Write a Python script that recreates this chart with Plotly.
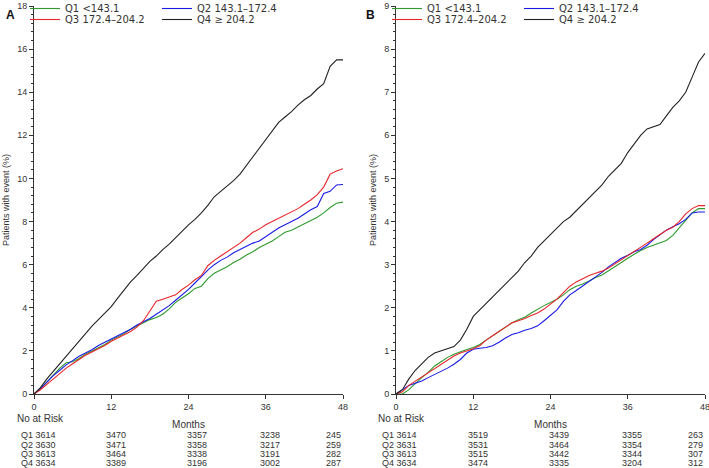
import plotly.graph_objects as go

# months 0..48, cumulative % with event
months = list(range(49))

a_q1 = [0, 0.25, 0.55, 0.9, 1.2, 1.45, 1.5, 1.65, 1.85, 2.0, 2.15, 2.3, 2.5, 2.65, 2.8, 3.0,
        3.15, 3.3, 3.45, 3.55, 3.7, 3.95, 4.25, 4.45, 4.65, 4.9, 5.0, 5.35, 5.6, 5.75, 5.9,
        6.1, 6.25, 6.45, 6.6, 6.8, 6.95, 7.1, 7.3, 7.5, 7.6, 7.75, 7.9, 8.05, 8.2, 8.4, 8.65,
        8.85, 8.9]
a_q2 = [0, 0.25, 0.55, 0.85, 1.1, 1.35, 1.55, 1.75, 1.9, 2.05, 2.25, 2.4, 2.55, 2.7, 2.85, 3.0,
        3.2, 3.35, 3.5, 3.7, 3.9, 4.1, 4.35, 4.6, 4.85, 5.15, 5.45, 5.75, 6.0, 6.2, 6.35,
        6.55, 6.7, 6.85, 7.0, 7.1, 7.3, 7.5, 7.7, 7.85, 8.0, 8.15, 8.35, 8.55, 8.7, 9.3, 9.4,
        9.7, 9.72]
a_q3 = [0, 0.2, 0.45, 0.7, 0.95, 1.2, 1.4, 1.6, 1.8, 1.95, 2.1, 2.25, 2.45, 2.6, 2.75, 2.9,
        3.1, 3.4, 3.85, 4.3, 4.4, 4.5, 4.6, 4.85, 5.05, 5.3, 5.5, 5.95, 6.2, 6.4, 6.6,
        6.8, 7.0, 7.25, 7.5, 7.65, 7.85, 8.0, 8.15, 8.3, 8.45, 8.6, 8.8, 9.0, 9.25, 9.6, 10.2,
        10.35, 10.45]
a_q4 = [0, 0.3, 0.7, 1.05, 1.45, 1.8, 2.15, 2.5, 2.85, 3.15, 3.45, 3.75, 4.05, 4.45, 4.85, 5.2,
        5.5, 5.85, 6.15, 6.4, 6.7, 6.95, 7.25, 7.55, 7.85, 8.1, 8.4, 8.75, 9.15, 9.4, 9.65,
        9.9, 10.2, 10.6, 11.0, 11.4, 11.75, 12.2, 12.6, 12.85, 13.1, 13.4, 13.65, 13.85, 14.15,
        14.4, 15.2, 15.5, 15.5]

b_q1 = [0, 0.0, 0.1, 0.25, 0.38, 0.5, 0.65, 0.75, 0.85, 0.92, 0.98, 1.03, 1.08, 1.15, 1.25,
        1.35, 1.45, 1.55, 1.65, 1.72, 1.78, 1.88, 1.97, 2.05, 2.12, 2.2, 2.3, 2.42, 2.5, 2.55,
        2.62, 2.7, 2.76, 2.85, 2.95, 3.05, 3.15, 3.25, 3.33, 3.4, 3.45, 3.5, 3.56, 3.68, 3.85,
        4.02, 4.2, 4.3, 4.3]
b_q2 = [0, 0.1, 0.2, 0.25, 0.3, 0.38, 0.45, 0.52, 0.6, 0.69, 0.8, 0.95, 1.04, 1.06, 1.08,
        1.12, 1.2, 1.3, 1.38, 1.42, 1.48, 1.52, 1.58, 1.7, 1.82, 1.95, 2.15, 2.3, 2.4, 2.5,
        2.6, 2.7, 2.82, 2.95, 3.05, 3.15, 3.22, 3.3, 3.35, 3.45, 3.58, 3.7, 3.8, 3.88, 3.95,
        4.05, 4.2, 4.22, 4.22]
b_q3 = [0, 0.05, 0.2, 0.3, 0.4, 0.5, 0.6, 0.7, 0.8, 0.88, 0.95, 1.0, 1.05, 1.12, 1.25,
        1.35, 1.45, 1.55, 1.65, 1.7, 1.75, 1.82, 1.88, 1.97, 2.08, 2.2, 2.35, 2.5, 2.6, 2.68,
        2.75, 2.8, 2.85, 2.92, 3.02, 3.12, 3.22, 3.32, 3.42, 3.5, 3.6, 3.7, 3.8, 3.87, 4.0,
        4.18, 4.3, 4.37, 4.37]
b_q4 = [0, 0.1, 0.35, 0.55, 0.7, 0.85, 0.95, 1.0, 1.05, 1.1, 1.25, 1.5, 1.8, 1.95, 2.1,
        2.25, 2.4, 2.55, 2.7, 2.85, 3.05, 3.2, 3.4, 3.55, 3.7, 3.85, 4.0, 4.1, 4.25, 4.4,
        4.55, 4.7, 4.85, 5.05, 5.2, 5.35, 5.6, 5.8, 6.0, 6.15, 6.2, 6.25, 6.45, 6.65, 6.8,
        7.0, 7.35, 7.7, 7.9]

names = ["Q1 <143.1", "Q2 143.1\u2013172.4", "Q3 172.4\u2013204.2", "Q4 \u2265 204.2"]
colors = ["#2e9a2e", "#1a1ae6", "#e8262b", "#222222"]

# numbers at risk at 0, 12, 24, 36, 48 months
risk_labels = ["Q1", "Q2", "Q3", "Q4"]
risk_a = [[3614, 3470, 3357, 3238, 245],
          [3630, 3471, 3358, 3217, 259],
          [3613, 3464, 3338, 3191, 282],
          [3634, 3389, 3196, 3002, 287]]
risk_b = [[3614, 3519, 3439, 3355, 263],
          [3631, 3531, 3464, 3354, 279],
          [3613, 3515, 3442, 3344, 307],
          [3634, 3474, 3335, 3204, 312]]

W, H = 709, 468
PH = 388  # plot height in px
font = "Liberation Sans, Arial, sans-serif"

fig = go.Figure()
# Q1/Q2 go in the top legend row, Q3/Q4 in the second row
panels = [([a_q1, a_q2, a_q3, a_q4], "x", "y", ["legend", "legend", "legend3", "legend3"]),
          ([b_q1, b_q2, b_q3, b_q4], "x2", "y2", ["legend2", "legend2", "legend4", "legend4"])]
for ys, xa, ya, legs in panels:
    for i, y in enumerate(ys):
        fig.add_trace(go.Scatter(
            x=months, y=y, mode="lines",
            line=dict(color=colors[i], width=1.1),
            name=names[i], legend=legs[i],
            xaxis=xa, yaxis=ya))

axis_common = dict(showline=True, linecolor="#333", linewidth=1, ticks="outside",
                   ticklen=4, tickcolor="#333", showgrid=False, zeroline=False,
                   tickfont=dict(size=9, color="#333", family=font))
xa = dict(axis_common, range=[0, 48], tickvals=[0, 12, 24, 36, 48], ticklabeloverflow="allow",
          title=dict(text="Months", font=dict(size=10, color="#333", family=font), standoff=10))
ytitle = dict(text="Patients with event (%)", font=dict(size=9, color="#333", family=font),
              standoff=6)
fig.update_layout(
    width=W, height=H,
    margin=dict(l=0, r=0, t=6, b=74, autoexpand=False),
    plot_bgcolor="white", paper_bgcolor="white",
    xaxis=dict(xa, domain=[34 / W, 343 / W], anchor="y"),
    xaxis2=dict(xa, domain=[396 / W, 705 / W], anchor="y2"),
    yaxis=dict(axis_common, range=[0, 18], dtick=2, anchor="x", title=ytitle,
               minor=dict(dtick=0.4, ticks="outside", ticklen=2, tickcolor="#333")),
    yaxis2=dict(axis_common, range=[0, 9], dtick=1, anchor="x2", title=ytitle,
                minor=dict(dtick=0.2, ticks="outside", ticklen=2, tickcolor="#333")),
)

leg_common = dict(orientation="h", bgcolor="rgba(0,0,0,0)", yanchor="top",
                  xanchor="left", entrywidth=87, itemwidth=30,
                  font=dict(size=10, color="#333", family="DejaVu Sans, sans-serif"))
row1 = 1 + 12 / PH
row2 = 1 + 1 / PH
fig.update_layout(legend=dict(leg_common, x=25 / W, y=row1),
                  legend3=dict(leg_common, x=25 / W, y=row2),
                  legend2=dict(leg_common, x=387 / W, y=row1),
                  legend4=dict(leg_common, x=387 / W, y=row2))

ann = []
for lab, px in [("A", 4), ("B", 364)]:
    ann.append(dict(text="<b>%s</b>" % lab, x=px / W, y=(394 - 15) / PH, xref="paper",
                    yref="paper", xanchor="left", yanchor="middle", showarrow=False,
                    font=dict(size=12, color="#111", family=font)))

row_y = [435, 444.5, 454, 463]
col_x = [12.7, 25.3, 36.7]
tfont = dict(size=9, color="#333", family=font)
for risk, xr, left in [(risk_a, "x", 15), (risk_b, "x2", 376)]:
    ann.append(dict(text="No at Risk", x=left / W, y=(394 - 418) / PH, xref="paper",
                    yref="paper", xanchor="left", yanchor="middle", showarrow=False,
                    font=dict(size=10, color="#333", family=font)))
    for r, row in enumerate(risk):
        yy = (394 - row_y[r]) / PH
        ann.append(dict(text="%s %d" % (risk_labels[r], row[0]), x=(left + 4) / W, y=yy,
                        xref="paper", yref="paper", xanchor="left", yanchor="middle",
                        showarrow=False, font=tfont))
        for c, v in enumerate(row[1:4]):
            ann.append(dict(text=str(v), x=col_x[c], y=yy, xref=xr, yref="paper",
                            xanchor="center", yanchor="middle", showarrow=False, font=tfont))
        ann.append(dict(text=str(row[4]), x=48, y=yy, xref=xr, yref="paper",
                        xanchor="right", yanchor="middle", showarrow=False, font=tfont))
fig.update_layout(annotations=ann)

# drop the browser's default body margin so the figure sits at the page corner
fig.write_html("out.html", config={"displayModeBar": False},
               post_script="document.body.style.margin='0';")
